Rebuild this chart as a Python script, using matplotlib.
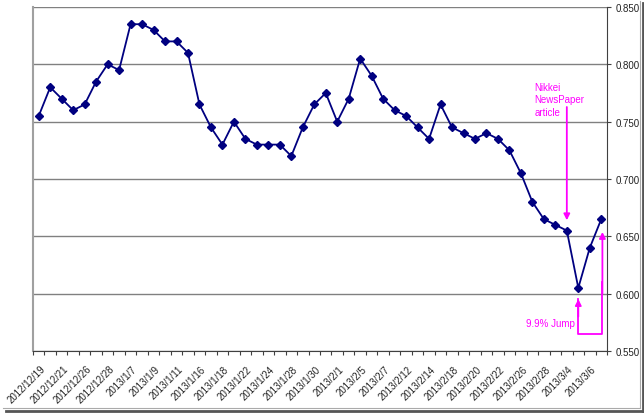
import matplotlib
matplotlib.use("Agg")
import matplotlib.pyplot as plt
from matplotlib.lines import Line2D

plt.rcParams['font.family'] = ['Liberation Sans', 'DejaVu Sans']

# fechas (dias habiles) y valores
fechas = ["2012/12/19", "2012/12/20", "2012/12/21", "2012/12/25", "2012/12/26",
          "2012/12/27", "2012/12/28", "2013/1/4", "2013/1/7", "2013/1/8",
          "2013/1/9", "2013/1/10", "2013/1/11", "2013/1/15", "2013/1/16",
          "2013/1/17", "2013/1/18", "2013/1/21", "2013/1/22", "2013/1/23",
          "2013/1/24", "2013/1/25", "2013/1/28", "2013/1/29", "2013/1/30",
          "2013/1/31", "2013/2/1", "2013/2/4", "2013/2/5", "2013/2/6",
          "2013/2/7", "2013/2/8", "2013/2/12", "2013/2/13", "2013/2/14",
          "2013/2/15", "2013/2/18", "2013/2/19", "2013/2/20", "2013/2/21",
          "2013/2/22", "2013/2/25", "2013/2/26", "2013/2/27", "2013/2/28",
          "2013/3/1", "2013/3/4", "2013/3/5", "2013/3/6", "2013/3/7"]
valores = [0.755, 0.780, 0.770, 0.760, 0.765, 0.785, 0.800, 0.795, 0.835, 0.835,
           0.830, 0.820, 0.820, 0.810, 0.765, 0.745, 0.730, 0.750, 0.735, 0.730,
           0.730, 0.730, 0.720, 0.745, 0.765, 0.775, 0.750, 0.770, 0.805, 0.790,
           0.770, 0.760, 0.755, 0.745, 0.735, 0.765, 0.745, 0.740, 0.735, 0.740,
           0.735, 0.725, 0.705, 0.680, 0.665, 0.660, 0.655, 0.605, 0.640, 0.665]

x = list(range(len(valores)))
magenta = "#ff00ff"

fig = plt.figure(figsize=(6.44, 4.14), dpi=100)
ax = fig.add_axes([33/644, 1 - 352/414, 574/644, 344/414])

ax.plot(x, valores, color="#000080", lw=1.3, marker="D", ms=3.8, zorder=3)

ax.set_xlim(-0.5, len(valores) - 0.5)
ax.set_ylim(0.55, 0.85)

# eje y a la derecha
ax.yaxis.tick_right()
ax.set_yticks([0.55, 0.60, 0.65, 0.70, 0.75, 0.80, 0.85])
ax.set_yticklabels(["%.3f" % v for v in ax.get_yticks()], fontsize=7, color="#222222")
ax.tick_params(axis="y", length=3, width=0.8, color="#404040", pad=3)
ax.grid(axis="y", color="#808080", lw=1.0)
ax.set_axisbelow(True)

# etiquetas x cada dos dias, ticks entre categorias
ax.set_xticks([i - 0.5 for i in range(len(valores) + 1)])
ax.set_xticklabels([])
ax.tick_params(axis="x", length=3, width=0.8, color="#404040")
for i in range(0, len(fechas), 2):
    ax.text(i + 0.1, -0.036, fechas[i], rotation=45, ha="right", va="top",
            rotation_mode="anchor", fontsize=7, color="#222222",
            transform=ax.get_xaxis_transform(), clip_on=False)

ax.spines["top"].set_visible(False)
ax.spines["left"].set_color("#a0a0a0")
ax.spines["left"].set_linewidth(1.5)
ax.spines["right"].set_color("#404040")
ax.spines["bottom"].set_color("#404040")

# anotaciones
ax.text(43.2, 0.7846, "Nikkei\nNewsPaper\narticle", color=magenta, fontsize=7,
        ha="left", va="top", linespacing=1.3)
ax.annotate("", xy=(46.0, 0.664), xytext=(46.0, 0.7628),
            arrowprops=dict(arrowstyle="-|>", color=magenta, lw=1.3,
                            mutation_scale=9, shrinkA=0, shrinkB=0))
ax.text(46.7, 0.5744, "9.9% Jump", color=magenta, fontsize=7, ha="right", va="center")
ax.plot([47.0, 47.0, 49.1, 49.1], [0.5953, 0.5648, 0.5648, 0.61],
        color=magenta, lw=1.3, clip_on=False)
ax.annotate("", xy=(47.0, 0.5953), xytext=(47.0, 0.58),
            arrowprops=dict(arrowstyle="-|>", color=magenta, lw=1.3,
                            mutation_scale=9, shrinkA=0, shrinkB=0))
ax.annotate("", xy=(49.1, 0.6538), xytext=(49.1, 0.60),
            arrowprops=dict(arrowstyle="-|>", color=magenta, lw=1.3,
                            mutation_scale=9, shrinkA=0, shrinkB=0))

# marco con sombra
fig.add_artist(Line2D([6/644, 643/644], [1 - 411.5/414] * 2, color="#555555", lw=2))
fig.add_artist(Line2D([642.5/644] * 2, [1 - 411.5/414, 1 - 4/414], color="#555555", lw=2))
fig.add_artist(Line2D([3/644, 640/644], [1 - 409/414] * 2, color="#aaaaaa", lw=0.8))
fig.add_artist(Line2D([640/644] * 2, [1 - 409/414, 1 - 2/414], color="#aaaaaa", lw=0.8))

fig.savefig("out.png", dpi=100)
